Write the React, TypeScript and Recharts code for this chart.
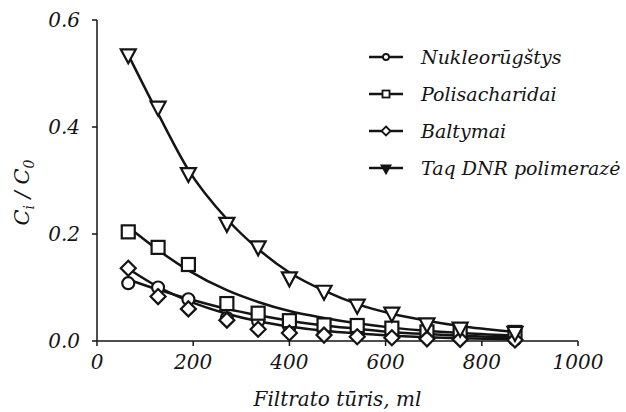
import React from 'react'
import { ComposedChart, Label, Legend, Line, Scatter, XAxis, YAxis } from 'recharts'

const INK = '#141414'
const SERIF = 'DejaVu Serif'

// filtrate volume, ml
const volumes = [65, 127, 190, 270, 335, 400, 472, 541, 613, 686, 755, 869]

// measured Ci/C0
const nukleo = [0.108, 0.1, 0.078, 0.043, 0.037, 0.026, 0.022, 0.017, 0.012, 0.009, 0.006, 0.003]
const polisach = [0.204, 0.175, 0.143, 0.07, 0.052, 0.038, 0.03, 0.029, 0.024, 0.017, 0.019, 0.016]
const baltymai = [0.136, 0.083, 0.06, 0.039, 0.022, 0.015, 0.011, 0.008, 0.006, 0.004, 0.003, 0.002]
const taq = [0.535, 0.437, 0.313, 0.22, 0.176, 0.118, 0.093, 0.067, 0.052, 0.032, 0.024, 0.016]

// trend curves at the same volumes
const nukleoFit = [0.115, 0.096, 0.079, 0.06, 0.048, 0.038, 0.029, 0.023, 0.017, 0.013, 0.01, 0.007]
const polisachFit = [0.213, 0.17, 0.132, 0.095, 0.073, 0.056, 0.043, 0.033, 0.025, 0.019, 0.015, 0.01]
const baltymaiFit = [0.135, 0.101, 0.075, 0.051, 0.037, 0.027, 0.019, 0.014, 0.01, 0.007, 0.005, 0.003]
const taqFit = [0.535, 0.425, 0.32, 0.228, 0.172, 0.128, 0.094, 0.069, 0.051, 0.038, 0.028, 0.017]

const xTicks = [0, 200, 400, 600, 800, 1000]
const yTicks = [0, 0.2, 0.4, 0.6]

type Kind = 'circle' | 'square' | 'diamond' | 'triangle'

const SERIES: { name: string; kind: Kind; points: number[]; trend: number[] }[] = [
	{ name: 'Nukleorūgštys', kind: 'circle', points: nukleo, trend: nukleoFit },
	{ name: 'Polisacharidai', kind: 'square', points: polisach, trend: polisachFit },
	{ name: 'Baltymai', kind: 'diamond', points: baltymai, trend: baltymaiFit },
	{ name: 'Taq DNR polimerazė', kind: 'triangle', points: taq, trend: taqFit },
]

const toRows = (ys: number[]) => volumes.map((x, i) => ({ x, y: ys[i] }))

const Marker = ({ cx, cy, kind, size = 13, fill = '#fff', sw = 2.2 }: any) => {
	const h = size / 2
	const common = { fill, stroke: INK, strokeWidth: sw }
	if (kind === 'circle') return <circle cx={cx} cy={cy} r={h - 0.5} {...common} />
	if (kind === 'square') return <rect x={cx - h} y={cy - h} width={size} height={size} {...common} />
	if (kind === 'diamond')
		return <polygon points={`${cx},${cy - h - 1} ${cx + h + 1},${cy} ${cx},${cy + h + 1} ${cx - h - 1},${cy}`} {...common} />
	return <polygon points={`${cx - h - 1},${cy - h + 1} ${cx + h + 1},${cy - h + 1} ${cx},${cy + h + 2}`} {...common} />
}

const LegendBox = () => (
	<div style={{ fontFamily: SERIF, fontStyle: 'italic', fontSize: 19, color: INK }}>
		{SERIES.map((s) => (
			<div key={s.name} style={{ display: 'flex', alignItems: 'center', height: 37 }}>
				<svg width={36} height={16} style={{ marginRight: 17 }}>
					<line x1={1} y1={8} x2={35} y2={8} stroke={INK} strokeWidth={2.5} />
					<Marker cx={18} cy={8} kind={s.kind} size={7} sw={1.8} fill={s.kind === 'triangle' ? INK : '#fff'} />
				</svg>
				<span>{s.name}</span>
			</div>
		))}
	</div>
)

const YTitle = ({ viewBox }: any) => {
	const x = viewBox.x + 29
	const y = viewBox.y + viewBox.height / 2 + 12
	return (
		<text
			x={x}
			y={y}
			transform={`rotate(-90 ${x} ${y})`}
			textAnchor="middle"
			style={{ fontFamily: SERIF, fontStyle: 'italic', fontSize: 21, fill: INK }}
		>
			C<tspan fontSize={14} dy={5}>i</tspan>
			<tspan dy={-5}> / C</tspan>
			<tspan fontSize={14} dy={5}>0</tspan>
		</text>
	)
}

const tickStyle = { fill: INK, fontSize: 20, fontStyle: 'italic', fontFamily: SERIF }

export default function App() {
	return (
		<div style={{ position: 'absolute', left: 0, top: 0, width: 626, height: 412, background: '#fff' }}>
			<ComposedChart width={626} height={412} margin={{ top: 20, right: 48, left: 0, bottom: 0 }}>
				<XAxis
					type="number"
					dataKey="x"
					domain={[0, 1000]}
					ticks={xTicks}
					height={71}
					tickSize={5}
					tickMargin={9}
					tick={tickStyle}
					axisLine={{ stroke: INK, strokeWidth: 1.5 }}
					tickLine={{ stroke: INK, strokeWidth: 1.5 }}
					allowDuplicatedCategory={false}
				>
					<Label
						value="Filtrato tūris, ml"
						position="insideBottom"
						offset={6}
						style={{ fill: INK, fontSize: 20, fontStyle: 'italic', fontFamily: SERIF }}
					/>
				</XAxis>
				<YAxis
					type="number"
					dataKey="y"
					domain={[0, 0.6]}
					ticks={yTicks}
					width={97}
					tickSize={5}
					tickMargin={12}
					tick={tickStyle}
					tickFormatter={(v: number) => v.toFixed(1)}
					axisLine={{ stroke: INK, strokeWidth: 1.5 }}
					tickLine={{ stroke: INK, strokeWidth: 1.5 }}
				>
					<Label content={<YTitle />} />
				</YAxis>
				{SERIES.map((s) => (
					<Line
						key={`fit-${s.name}`}
						data={toRows(s.trend)}
						dataKey="y"
						type="monotone"
						stroke={INK}
						strokeWidth={2.5}
						dot={false}
						activeDot={false}
						legendType="none"
						isAnimationActive={false}
					/>
				))}
				{SERIES.map((s) => (
					<Scatter
						key={`pts-${s.name}`}
						name={s.name}
						data={toRows(s.points)}
						dataKey="y"
						shape={(p: any) => <Marker cx={p.cx} cy={p.cy} kind={s.kind} />}
						isAnimationActive={false}
					/>
				))}
				<Legend
					layout="vertical"
					align="center"
					verticalAlign="middle"
					content={() => <LegendBox />}
					wrapperStyle={{ top: 38, left: 368, width: 255, height: 150 }}
				/>
			</ComposedChart>
		</div>
	)
}
